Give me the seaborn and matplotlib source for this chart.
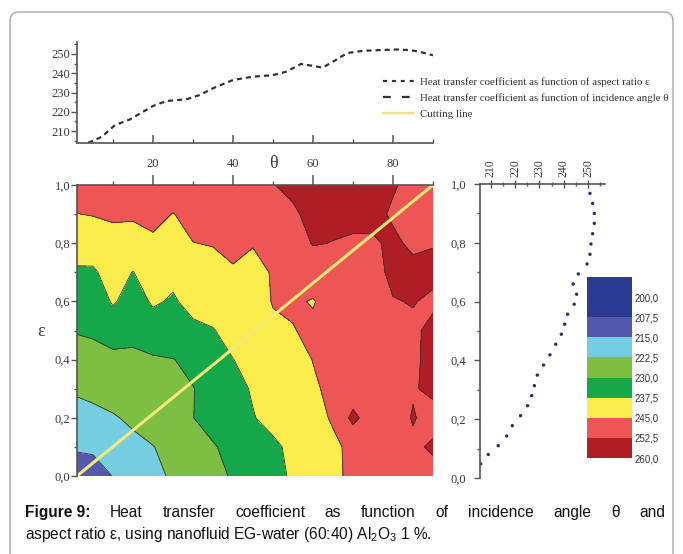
import numpy as np
import matplotlib
matplotlib.use("Agg")
import matplotlib.pyplot as plt
import seaborn as sns
from matplotlib.colors import ListedColormap, BoundaryNorm
from matplotlib.cm import ScalarMappable
from matplotlib.patches import FancyBboxPatch
from matplotlib.lines import Line2D
from matplotlib.ticker import MultipleLocator, FuncFormatter
from matplotlib.transforms import IdentityTransform

# ---------------- data ----------------
theta_top = [3.8, 7.2, 10.5, 14.2, 20, 23.4, 28.4, 31.7, 35, 40, 45, 50, 53.3, 57, 60,
             62.4, 65.4, 68.6, 72.5, 76.7, 81, 84.2, 86.7, 90]
h_top = [203.9, 207.0, 213.1, 216.0, 223.0, 225.6, 226.5, 228.7, 232.2, 236.5, 238.2, 239.0,
         240.8, 244.8, 243.8, 242.9, 246.5, 250.5, 251.6, 252.0, 252.3, 252.0, 251.1, 249.3]

eps_right = [0.048, 0.08, 0.11, 0.143, 0.178, 0.212, 0.246, 0.28, 0.314, 0.35, 0.384, 0.419,
             0.455, 0.489, 0.523, 0.557, 0.591, 0.625, 0.66, 0.694, 0.728, 0.761, 0.796,
             0.831, 0.866, 0.9, 0.934, 0.968]
h_right = [205.8, 208.9, 213.0, 216.5, 218.8, 222.2, 225.1, 226.8, 227.9, 229.1, 231.7, 234.3,
           236.7, 239.0, 240.4, 241.6, 244.3, 245.3, 243.9, 246.0, 249.6, 250.8, 251.2,
           251.9, 252.6, 252.6, 251.9, 250.8]

theta_grid = [0, 5, 10, 15, 20, 25, 30, 35, 40, 45, 50, 55, 60, 65, 70, 75, 80, 85, 90]
eps_grid = [0.0, 0.1, 0.2, 0.3, 0.4, 0.5, 0.6, 0.7, 0.8, 0.9, 1.0]
h_grid = [
    [209.5, 211.5, 215.2, 218.0, 220.8, 223.4, 225.8, 228.2, 230.6, 233.2, 235.7, 238.3, 241.0, 243.7, 246.3, 248.0, 249.0, 249.5, 250.0],
    [216.0, 216.3, 219.0, 220.8, 222.3, 224.7, 227.1, 229.5, 231.8, 234.1, 236.4, 238.8, 241.5, 244.1, 246.1, 247.8, 249.5, 251.2, 253.5],
    [219.0, 220.5, 221.9, 223.7, 225.8, 227.8, 229.9, 232.3, 234.7, 237.2, 239.3, 241.4, 243.4, 245.5, 254.5, 248.0, 249.0, 253.0, 250.0],
    [223.5, 224.5, 225.6, 226.6, 227.7, 228.7, 229.8, 232.4, 235.4, 238.1, 240.2, 242.3, 244.4, 246.0, 247.5, 249.0, 250.4, 251.9, 254.0],
    [227.0, 227.6, 228.1, 228.7, 229.2, 229.8, 231.7, 234.6, 237.4, 239.4, 241.3, 243.3, 245.1, 246.4, 247.7, 249.0, 250.3, 251.6, 254.0],
    [230.3, 231.0, 233.5, 231.8, 234.4, 235.0, 236.2, 237.2, 239.6, 241.9, 244.0, 244.8, 245.9, 246.5, 247.8, 249.0, 250.5, 251.8, 253.5],
    [233.4, 233.4, 238.2, 234.6, 238.3, 236.8, 239.4, 240.1, 242.1, 242.3, 245.3, 245.6, 244.7, 247.0, 248.3, 249.8, 252.3, 252.7, 251.8],
    [236.6, 236.6, 240.3, 237.3, 241.2, 239.0, 242.2, 243.0, 244.6, 243.4, 245.4, 246.5, 247.5, 248.5, 249.5, 251.0, 253.5, 254.0, 253.5],
    [240.5, 240.9, 243.1, 241.9, 243.9, 242.0, 244.9, 245.3, 246.0, 245.3, 246.5, 248.0, 253.0, 252.3, 251.5, 251.8, 253.5, 251.5, 252.3],
    [244.8, 245.3, 245.8, 246.0, 246.8, 244.8, 247.0, 247.5, 248.0, 248.5, 249.5, 251.5, 254.5, 254.5, 254.5, 254.0, 251.8, 250.5, 250.0],
    [247.0, 247.5, 248.0, 248.5, 249.0, 249.0, 249.5, 250.0, 250.5, 251.0, 252.3, 254.0, 255.0, 255.5, 255.5, 255.0, 253.0, 251.0, 250.0],
]

levels = [190, 207.5, 215, 222.5, 230, 237.5, 245, 252.5, 270]
level_colors = ["#2B3A93", "#5459AE", "#74CDE0", "#7DBF43", "#15A84B", "#F9EC4B", "#EE5656", "#AE1E24"]
cbar_bounds = [192.5, 207.5, 215, 222.5, 230, 237.5, 245, 252.5, 260]
cbar_ticks = [200, 207.5, 215, 222.5, 230, 237.5, 245, 252.5, 260]

cut_theta = [1, 90]
cut_eps = [0, 1]

legend_labels = ["Heat transfer coefficient as function of aspect ratio ε",
                 "Heat transfer coefficient as function of incidence angle θ",
                 "Cutting line"]

# ---------------- style ----------------
sns.set_style("ticks")
plt.rcParams["font.family"] = ["Liberation Serif", "DejaVu Serif"]
SERIF = "Liberation Serif"
SANS = "Liberation Sans"
TXT = "#3a3a3a"
SPINE = "#555555"

W, H = 683, 554
fig = plt.figure(figsize=(W / 100, H / 100), dpi=100)
fig.patch.set_facecolor("white")


def frac(x0, y0, x1, y1):
    return [x0 / W, (H - y1) / H, (x1 - x0) / W, (y1 - y0) / H]


comma = FuncFormatter(lambda v, p: f"{v:.1f}".replace(".", ","))

# ---------------- border ----------------
border = FancyBboxPatch((10, -30), 663, H - 12 + 30, boxstyle="round,pad=0,rounding_size=9",
                        transform=IdentityTransform(), facecolor="none",
                        edgecolor="#a6a6a6", linewidth=1.0)
fig.patches.append(border)

# ---------------- top panel ----------------
ax_top = fig.add_axes(frac(77, 42, 433, 143))
sns.lineplot(x=theta_top, y=h_top, ax=ax_top, color="#333333", linewidth=1.6, sort=False)
ax_top.lines[0].set_dashes([2.3, 1.8])
ax_top.set_xlim(1, 90)
ax_top.set_ylim(203.8, 256.2)
ax_top.set_xlabel("")
ax_top.set_ylabel("")
for s in ["top", "right"]:
    ax_top.spines[s].set_visible(False)
for s in ["left", "bottom"]:
    ax_top.spines[s].set_color(SPINE)
    ax_top.spines[s].set_linewidth(1.2)
ax_top.xaxis.set_major_locator(MultipleLocator(20))
ax_top.xaxis.set_minor_locator(MultipleLocator(10))
ax_top.yaxis.set_major_locator(MultipleLocator(10))
ax_top.yaxis.set_minor_locator(MultipleLocator(5))
ax_top.set_yticks([210, 220, 230, 240, 250])
ax_top.tick_params(axis="x", which="major", direction="in", length=6, width=1.1, color=SPINE,
                   labelbottom=False)
ax_top.tick_params(axis="x", which="minor", direction="in", length=3, width=1.0, color=SPINE)
ax_top.tick_params(axis="y", which="major", direction="out", length=4, width=1.0, color=SPINE,
                   labelsize=9, labelcolor=TXT, pad=1)
ax_top.tick_params(axis="y", which="minor", direction="out", length=2, width=1.0, color=SPINE)
for lab in ax_top.get_yticklabels():
    lab.set_family(SERIF)
ax_top.patch.set_alpha(0)

# ---------------- contour panel ----------------
ax_c = fig.add_axes(frac(77, 185, 433, 476))
T, E = np.meshgrid(theta_grid, eps_grid)
Z = np.array(h_grid)
ax_c.contourf(T, E, Z, levels=levels, colors=level_colors)
ax_c.contour(T, E, Z, levels=levels[1:-1], colors="#3b3030", linewidths=0.6)
sns.lineplot(x=cut_theta, y=cut_eps, ax=ax_c, color="#F3EA78", linewidth=2.2)
ax_c.set_xlim(1, 90)
ax_c.set_ylim(0, 1)
ax_c.set_xlabel("")
ax_c.set_ylabel("")
for s in ["bottom", "right"]:
    ax_c.spines[s].set_visible(False)
for s in ["top", "left"]:
    ax_c.spines[s].set_color(SPINE)
    ax_c.spines[s].set_linewidth(1.2)
ax_c.xaxis.tick_top()
ax_c.xaxis.set_major_locator(MultipleLocator(20))
ax_c.xaxis.set_minor_locator(MultipleLocator(10))
ax_c.yaxis.set_major_locator(MultipleLocator(0.2))
ax_c.yaxis.set_minor_locator(MultipleLocator(0.1))
ax_c.yaxis.set_major_formatter(comma)
ax_c.tick_params(axis="x", which="major", direction="out", length=7, width=1.1, color=SPINE,
                 labelsize=9, labelcolor=TXT, pad=4, top=True, labeltop=True,
                 bottom=False, labelbottom=False)
ax_c.tick_params(axis="x", which="minor", direction="out", length=3, width=1.0, color=SPINE,
                 top=True, bottom=False)
ax_c.tick_params(axis="y", which="major", direction="out", length=4, width=1.0, color=SPINE,
                 labelsize=9, labelcolor=TXT, pad=1)
ax_c.tick_params(axis="y", which="minor", direction="out", length=2, width=1.0, color=SPINE)
for lab in ax_c.get_xticklabels() + ax_c.get_yticklabels():
    lab.set_family(SERIF)

# ---------------- right panel ----------------
ax_r = fig.add_axes(frac(480, 184, 605, 478))
sns.scatterplot(x=h_right, y=eps_right, ax=ax_r, color="#26306e", s=6, edgecolor="none")
ax_r.set_xlim(205.5, 257)
ax_r.set_ylim(0, 1)
ax_r.set_xlabel("")
ax_r.set_ylabel("")
for s in ["bottom", "right"]:
    ax_r.spines[s].set_visible(False)
for s in ["top", "left"]:
    ax_r.spines[s].set_color(SPINE)
    ax_r.spines[s].set_linewidth(1.2)
ax_r.xaxis.tick_top()
ax_r.xaxis.set_major_locator(MultipleLocator(10))
ax_r.xaxis.set_minor_locator(MultipleLocator(5))
ax_r.set_xticks([210, 220, 230, 240, 250])
ax_r.yaxis.set_major_locator(MultipleLocator(0.2))
ax_r.yaxis.set_minor_locator(MultipleLocator(0.1))
ax_r.yaxis.set_major_formatter(comma)
ax_r.tick_params(axis="x", which="major", direction="inout", length=6, width=1.0, color=SPINE,
                 labelsize=8.5, labelcolor=TXT, pad=2, labelrotation=90)
ax_r.tick_params(axis="x", which="minor", direction="inout", length=3, width=1.0, color=SPINE)
ax_r.tick_params(axis="y", which="major", direction="out", length=4, width=1.0, color=SPINE,
                 labelsize=9, labelcolor=TXT, pad=6)
ax_r.tick_params(axis="y", which="minor", direction="out", length=2, width=1.0, color=SPINE)
for lab in ax_r.get_xticklabels() + ax_r.get_yticklabels():
    lab.set_family(SERIF)
ax_r.patch.set_alpha(0)

# ---------------- colorbar ----------------
ax_cb = fig.add_axes(frac(587, 277, 632, 458))
cb_cmap = ListedColormap(level_colors)
norm = BoundaryNorm(cbar_bounds, cb_cmap.N)
cb = fig.colorbar(ScalarMappable(norm=norm, cmap=cb_cmap), cax=ax_cb,
                  boundaries=cbar_bounds, spacing="proportional", ticks=cbar_ticks)
cb.outline.set_visible(False)
cb.minorticks_off()
ax_cb.invert_yaxis()
cb.set_ticklabels([f"{v:.1f}".replace(".", ",") for v in cbar_ticks])
ax_cb.tick_params(which="both", length=0, labelsize=7, labelcolor="#333333", pad=2)
for lab in ax_cb.get_yticklabels():
    lab.set_family(SANS)

# ---------------- legend ----------------
handles = [Line2D([], [], color="#333333", lw=1.6, dashes=(1.8, 2.2)),
           Line2D([], [], color="#333333", lw=1.6, dashes=(3.5, 5.0)),
           Line2D([], [], color="#F0E27A", lw=1.6)]
fig.legend(handles, legend_labels, loc="upper left", bbox_to_anchor=(383 / W, 1 - 77 / H),
           frameon=False, prop={"family": SERIF, "size": 7.8}, labelcolor="#333333",
           handlelength=2.9, handletextpad=0.5, labelspacing=0.6, borderpad=0,
           borderaxespad=0)

# ---------------- axis letters ----------------
fig.text(273 / W, 1 - 163 / H, "θ", family=SERIF, size=13, color=TXT, ha="center", va="center")
fig.text(41 / W, 1 - 331 / H, "ε", family=SERIF, size=13, color=TXT, ha="center", va="center")

# ---------------- caption ----------------
CAP_SIZE = 11.2
renderer = fig.canvas.get_renderer()
words1 = ["Figure 9:", "Heat", "transfer", "coefficient", "as", "function", "of", "incidence",
          "angle", "θ", "and"]
weights1 = ["bold"] + ["normal"] * (len(words1) - 1)
texts = []
widths = []
for w, wt in zip(words1, weights1):
    t = fig.text(0, 0, w, family=SANS, size=CAP_SIZE, weight=wt, color="#111111",
                 transform=IdentityTransform(), va="baseline", ha="left")
    texts.append(t)
    widths.append(t.get_window_extent(renderer).width)
x0, x1 = 25, 665
gap = (x1 - x0 - sum(widths)) / (len(words1) - 1)
x = x0
for t, wdt in zip(texts, widths):
    t.set_position((x, H - 517))
    x += wdt + gap

fig.text(25, H - 539, r"aspect ratio ε, using nanofluid EG-water (60:40) Al$_\mathregular{2}$O$_\mathregular{3}$ 1 %.",
         family=SANS, size=CAP_SIZE, color="#111111", transform=IdentityTransform(),
         va="baseline", ha="left")

fig.savefig("out.png", dpi=100, facecolor="white")
